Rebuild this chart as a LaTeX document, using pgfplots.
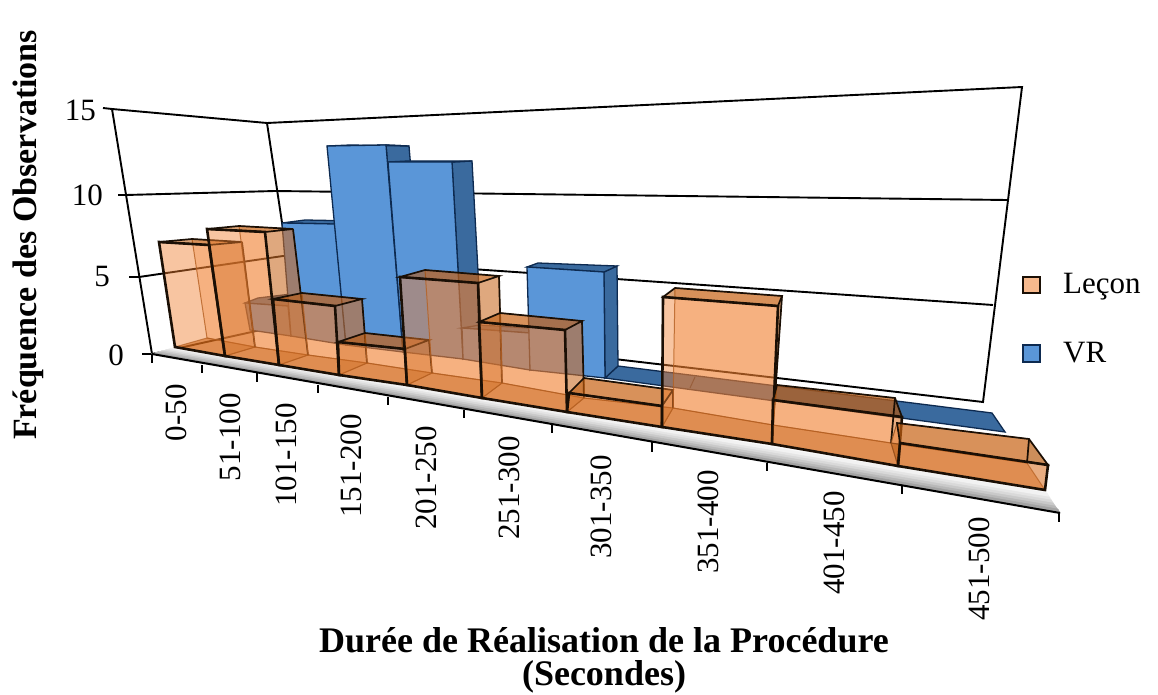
\documentclass[border=0pt]{standalone}
\usepackage{pgfplots}
\pgfplotsset{compat=1.18}
\usepackage{fontspec}
\setmainfont{Liberation Serif}
\definecolor{oF}{HTML}{F08030}
\definecolor{oB}{HTML}{B85000}
\definecolor{oT}{HTML}{B75505}
\definecolor{oS}{HTML}{B06020}
\definecolor{oL}{HTML}{8B4A1A}
\definecolor{ink}{HTML}{1A0F05}
\definecolor{bF}{HTML}{5A96D8}
\definecolor{bS}{HTML}{3A6A9E}
\definecolor{bL}{HTML}{0D2A50}
\newcommand\poly[2]{\addplot[#1] coordinates {#2} -- cycle;}
\newcommand\lin[2]{\addplot[#1] coordinates {#2};}
% front TL, TR, BR, BL ; back TL, TR, BR, BL
\newcommand\obar[8]{%
 \poly{draw=oL,line width=1pt,fill=oF,fill opacity=.38,draw opacity=.8}{#5#6#7#8}%
 \poly{draw=none,fill=oF,fill opacity=.12}{#1#5#8#4}%
 \poly{draw=oL,line width=1pt,draw opacity=.7,fill=oB,fill opacity=.6}{#4#3#7#8}%
 \poly{draw=none,fill=oS,fill opacity=.35}{#2#6#7#3}%
 \poly{draw=ink,line width=1.7pt,fill=oT,fill opacity=.5}{#1#2#6#5}%
 \poly{draw=ink,line width=2.6pt,fill=oF,fill opacity=.38}{#1#2#3#4}%
 \lin{draw=ink,line width=1.7pt}{#6#7}%
}
\newcommand\bbar[7]{%
 \poly{draw=bL,line width=1.3pt,fill=bS}{#2#6#7#3}%
 \poly{draw=bL,line width=1.3pt,fill=bS}{#1#2#6#5}%
 \poly{draw=bL,line width=1.3pt,fill=bF}{#1#2#3#4}%
}
\begin{document}
\begin{tikzpicture}
\path[use as bounding box] (0,0) rectangle (1158pt,695pt);
\begin{axis}[anchor=south west,at={(0,0)},hide axis,scale only axis,width=1158pt,height=695pt,
 xmin=0,xmax=1158,ymin=0,ymax=695,y dir=reverse,clip=false,
 nodes={font=\fontsize{31}{36}\selectfont}]
% walls
\lin{black,line width=1.9pt}{(103,108)(112,109)(152,354)(297,322)(267,123)(112,109)}
\lin{black,line width=1.9pt}{(267,123)(1022,87)(983,402)(297,322)}
\lin{black,line width=1.9pt}{(118,195)(126,195)(275,191)(1007,200)}
\lin{black,line width=1.9pt}{(129,277)(139,277)(283,256)(993,305)}
\lin{black,line width=1.9pt}{(142,354)(152,354)}
% floor strip
\poly{draw=none,fill=white!98!black}{(152,354)(1060,513)(1045,490)(175,347)}
\poly{fill=black!5,draw=black!5}{(152,354)(1060,513)(1047,493)(172,348)}
\poly{fill=black!10,draw=black!10}{(152,354)(1060,513)(1049,497)(169,349)}
\poly{fill=black!15,draw=black!15}{(152,354)(1060,513)(1051,500)(166,350)}
\poly{fill=black!21,draw=black!21}{(152,354)(1060,513)(1053,503)(163,351)}
\poly{fill=black!28,draw=black!28}{(152,354)(1060,513)(1055,506)(160,352)}
\poly{fill=black!36,draw=black!36}{(152,354)(1060,513)(1058,509)(156,353)}
% flat blue
\poly{draw=bL,line width=1.3pt,fill=bS}{(605,378)(1005,432)(992,413)(618,366)}
\lin{draw=bL,line width=1pt}{(690,388)(695,377)}
% blue bars
\bbar{(245,303)}{(288,306)}{(291,336)}{(250,330)}{(258,298)}{(300,293)}{(308,328)}
\bbar{(282,223)}{(335,224)}{(346,345)}{(291,336)}{(305,220)}{(358,221)}{(370,336)}
\bbar{(327,146)}{(386,145)}{(403,352)}{(346,345)}{(350,145)}{(409,146)}{(425,340)}
\bbar{(388,162)}{(452,162)}{(463,359)}{(403,352)}{(408,161)}{(472,161)}{(482,345)}
\bbar{(462,328)}{(530,333)}{(530,370)}{(463,359)}{(480,325)}{(545,329)}{(545,358)}
\bbar{(527,267)}{(604,272)}{(605,378)}{(530,370)}{(538,263)}{(617,266)}{(618,366)}
% orange bars
\obar{(159,242)}{(209,245)}{(225,356)}{(175,347)}{(192,239)}{(242,242)}{(255,347)}{(207,338)}
\obar{(207,229)}{(265,232)}{(279,365)}{(225,356)}{(239,226)}{(293,229)}{(308,355)}{(255,347)}
\obar{(273,299)}{(335,306)}{(339,375)}{(279,365)}{(302,293)}{(362,299)}{(367,363)}{(308,355)}
\obar{(338,342)}{(405,349)}{(407,385)}{(339,375)}{(365,333)}{(429,340)}{(432,373)}{(367,363)}
\obar{(400,277)}{(478,283)}{(482,398)}{(407,385)}{(425,270)}{(499,276)}{(502,383)}{(432,373)}
\obar{(479,322)}{(565,330)}{(567,412)}{(482,398)}{(500,313)}{(582,321)}{(584,398)}{(502,383)}
\obar{(569,393)}{(662,406)}{(662,427)}{(567,412)}{(584,378)}{(673,390)}{(673,408)}{(584,398)}
\obar{(663,297)}{(778,306)}{(772,444)}{(662,427)}{(675,288)}{(782,296)}{(773,425)}{(673,408)}
\obar{(773,400)}{(902,417)}{(898,466)}{(772,444)}{(777,385)}{(895,398)}{(891,443)}{(773,425)}
\obar{(900,443)}{(1048,465)}{(1045,490)}{(898,466)}{(897,423)}{(1029,439)}{(1027,463)}{(891,443)}
% front axis and ticks
\lin{black,line width=2pt}{(152,354)(1060,513)}
\lin{black,line width=2pt}{(152,354)(152,363)}
\lin{black,line width=2pt}{(202,365)(202,373)}
\lin{black,line width=2pt}{(257,373)(257,382)}
\lin{black,line width=2pt}{(318,385)(318,393)}
\lin{black,line width=2pt}{(388,397)(388,405)}
\lin{black,line width=2pt}{(464,410)(464,418)}
\lin{black,line width=2pt}{(552,425)(552,433)}
\lin{black,line width=2pt}{(652,442)(652,452)}
\lin{black,line width=2pt}{(767,463)(767,471)}
\lin{black,line width=2pt}{(902,486)(902,494)}
\lin{black,line width=2pt}{(1059,513)(1059,522)}
% legend keys
\poly{draw=ink,line width=1.8pt,fill=oF,fill opacity=.55}{(1023,277)(1040,277)(1040,293)(1023,293)}
\poly{draw=bL,line width=1.8pt,fill=bF}{(1023,345)(1040,345)(1040,362)(1023,362)}
% text
\node[anchor=east,inner sep=0pt] at (axis cs:96,110) {15};
\node[anchor=east,inner sep=0pt] at (axis cs:103,195) {10};
\node[anchor=east,inner sep=0pt] at (axis cs:110,277) {5};
\node[anchor=east,inner sep=0pt] at (axis cs:124,355) {0};
\foreach \xx/\yy/\tt in {176/384/0-50,230/393/51-100,286/403/101-150,351/414/151-200,426/426/201-250,509/436/251-300,601/455/301-350,708/470/351-400,834/491/401-450,979/517/451-500}{
 \edef\temp{\noexpand\node[rotate=90,anchor=east,inner sep=0pt] at (axis cs:\xx,\yy) {\tt};}\temp
}
\node[anchor=west,inner sep=0pt] at (axis cs:1063,287) {Leçon};
\node[anchor=west,inner sep=0pt] at (axis cs:1063,353) {VR};
\node[font=\fontsize{36}{40}\selectfont\bfseries,inner sep=0pt] at (axis cs:604,640) {Durée de Réalisation de la Procédure};
\node[font=\fontsize{36}{40}\selectfont\bfseries,inner sep=0pt] at (axis cs:604,677) {(Secondes)};
\node[font=\fontsize{34}{40}\selectfont\bfseries,rotate=90,inner sep=0pt] at (axis cs:28,235) {Fréquence des Observations};
\end{axis}
\end{tikzpicture}
\end{document}
